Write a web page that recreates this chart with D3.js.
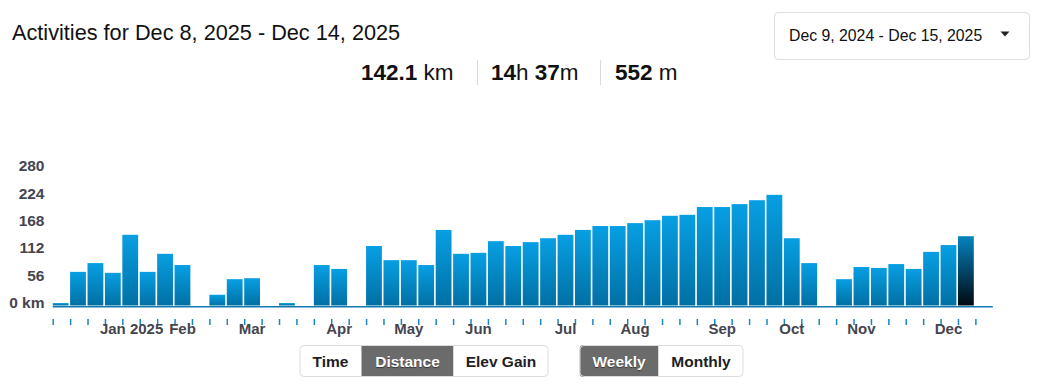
<!DOCTYPE html>
<html>
<head>
<meta charset="utf-8">
<script src="https://cdn.jsdelivr.net/npm/d3@7"></script>
<style>
  html, body { margin: 0; padding: 0; background: #fff; }
  svg { display: block; }
</style>
</head>
<body>
<div id="chart"></div>
<script>
// ---------- data ----------
const weeks = [
  "2024-12-09","2024-12-16","2024-12-23","2024-12-30","2025-01-06","2025-01-13","2025-01-20","2025-01-27",
  "2025-02-03","2025-02-10","2025-02-17","2025-02-24","2025-03-03","2025-03-10","2025-03-17","2025-03-24",
  "2025-03-31","2025-04-07","2025-04-14","2025-04-21","2025-04-28","2025-05-05","2025-05-12","2025-05-19",
  "2025-05-26","2025-06-02","2025-06-09","2025-06-16","2025-06-23","2025-06-30","2025-07-07","2025-07-14",
  "2025-07-21","2025-07-28","2025-08-04","2025-08-11","2025-08-18","2025-08-25","2025-09-01","2025-09-08",
  "2025-09-15","2025-09-22","2025-09-29","2025-10-06","2025-10-13","2025-10-20","2025-10-27","2025-11-03",
  "2025-11-10","2025-11-17","2025-11-24","2025-12-01","2025-12-08","2025-12-15"
];
const distanceKm = [
  5, 69, 87, 67, 145, 69, 106, 83,
  0, 22, 54, 56, 0, 5, 0, 83,
  75, 0, 122, 93, 93, 83, 155, 106,
  108, 132, 122, 130, 138, 145, 155, 163,
  163, 169, 175, 184, 186, 202, 202, 208,
  216, 227, 138, 87, 0, 54, 79, 77,
  85, 75, 110, 124, 142.1, 0
];
const selectedWeek = "2025-12-08";
const yTicks = [0, 56, 112, 168, 224, 280];
const monthDates = ["2025-01-01","2025-02-01","2025-03-01","2025-04-01","2025-05-01","2025-06-01",
                    "2025-07-01","2025-08-01","2025-09-01","2025-10-01","2025-11-01","2025-12-01"];
const monthLabels = ["Jan 2025","Feb","Mar","Apr","May","Jun","Jul","Aug","Sep","Oct","Nov","Dec"];

const titleText = "Activities for Dec 8, 2025 - Dec 14, 2025";
const statValues = ["142.1", "14", "37", "552"];
const rangeText = "Dec 9, 2024 - Dec 15, 2025";
const metricButtons = ["Time", "Distance", "Elev Gain"];
const periodButtons = ["Weekly", "Monthly"];

// ---------- chart ----------
const W = 1038, H = 390;
const FONT = "'Liberation Sans', Arial, sans-serif";
const svg = d3.select("#chart").append("svg").attr("width", W).attr("height", H)
  .style("font-family", FONT);

const defs = svg.append("defs");
const g1 = defs.append("linearGradient").attr("id", "barGrad").attr("x1", 0).attr("y1", 0).attr("x2", 0).attr("y2", 1);
g1.append("stop").attr("offset", "0%").attr("stop-color", "#079fe3");
g1.append("stop").attr("offset", "100%").attr("stop-color", "#0170a4");
const g2 = defs.append("linearGradient").attr("id", "selGrad").attr("x1", 0).attr("y1", 0).attr("x2", 0).attr("y2", 1);
g2.append("stop").attr("offset", "0%").attr("stop-color", "#0683bf");
g2.append("stop").attr("offset", "100%").attr("stop-color", "#000912");

const parse = d3.timeParse("%Y-%m-%d");
const x = d3.scaleBand().domain(weeks).range([52.7, 992.8]).paddingInner(0).paddingOuter(0);
const y = d3.scaleLinear().domain([0, 280]).range([305.5, 169]);

// bars
const data = weeks.map((w, i) => ({ week: w, v: distanceKm[i] }));
svg.append("g").selectAll("rect").data(data.filter(d => d.v > 0)).join("rect")
  .attr("x", d => x(d.week))
  .attr("y", d => y(d.v))
  .attr("width", x.bandwidth() - 1.6)
  .attr("height", d => y(0) - y(d.v))
  .attr("fill", d => d.week === selectedWeek ? "url(#selGrad)" : "url(#barGrad)");

// baseline
svg.append("line").attr("x1", x.range()[0]).attr("x2", x.range()[1])
  .attr("y1", 306.8).attr("y2", 306.8).attr("stroke", "#1279b0").attr("stroke-width", 1.6);

// y axis
const yAxis = d3.axisLeft(y).tickValues(yTicks).tickSize(0).tickPadding(0)
  .tickFormat(d => d === 0 ? "0 km" : d);
const yg = svg.append("g").attr("transform", "translate(44.5,-3)").call(yAxis);
yg.select(".domain").remove();
yg.selectAll("text").attr("fill", "#45454f").style("font-size", "15.5px").style("font-weight", "bold")
  .style("font-family", FONT);

// x ticks (one per week boundary)
const tickG = svg.append("g");
tickG.selectAll("line").data(weeks).join("line")
  .attr("x1", d => x(d) + 0.5).attr("x2", d => x(d) + 0.5)
  .attr("y1", 319).attr("y2", 325)
  .attr("stroke", "#1a86c2").attr("stroke-width", 1.5);

// month labels, centred on the week containing the 1st of the month
const weekDates = weeks.map(parse);
function weekOf(dateStr) {
  const d = parse(dateStr);
  let idx = 0;
  weekDates.forEach((w, i) => { if (w <= d) idx = i; });
  return weeks[idx];
}
const mg = svg.append("g");
monthDates.forEach((md, i) => {
  const cx = x(weekOf(md)) + x.bandwidth() / 2 - 0.8;
  const parts = monthLabels[i].split(" ");
  const t = mg.append("text").attr("y", 334).attr("fill", "#45454f")
    .style("font-size", "15px").style("font-weight", "bold");
  const first = t.append("tspan").text(parts[0]);
  if (parts.length > 1) t.append("tspan").text(" " + parts.slice(1).join(" "));
  const len = first.node().getComputedTextLength();
  t.attr("x", cx - len / 2);
});

// title
svg.append("text").attr("x", 12).attr("y", 39.5).text(titleText)
  .style("font-size", "21.7px").attr("fill", "#111");

// stats line
const stats = svg.append("g").style("font-size", "22.5px").attr("fill", "#111");
function statText(xp, pieces) {
  const t = stats.append("text").attr("x", xp).attr("y", 79.5);
  pieces.forEach(p => t.append("tspan").text(p[0]).style("font-weight", p[1] ? "bold" : "normal"));
}
statText(361, [[statValues[0], true], [" km", false]]);
statText(491, [[statValues[1], true], ["h ", false], [statValues[2], true], ["m", false]]);
statText(615, [[statValues[3], true], [" m", false]]);
[477.5, 600.5].forEach(sx => svg.append("line").attr("x1", sx).attr("x2", sx).attr("y1", 60).attr("y2", 85)
  .attr("stroke", "#d9d9e0").attr("stroke-width", 1));

// date range dropdown
svg.append("rect").attr("x", 774.5).attr("y", 12.5).attr("width", 255).attr("height", 47).attr("rx", 4)
  .attr("fill", "#fff").attr("stroke", "#dcdce2");
svg.append("text").attr("x", 789).attr("y", 41).text(rangeText).style("font-size", "15.8px").attr("fill", "#111");
svg.append("path").attr("d", "M1000.5,31.5 L1009.5,31.5 L1005,36.5 Z").attr("fill", "#222");

// button groups
function buttonGroup(x0, y0, h, widths, labels, selected) {
  const g = svg.append("g");
  const total = d3.sum(widths);
  let cx = x0;
  const clipId = "clip" + labels[0];
  defs.append("clipPath").attr("id", clipId).append("rect")
    .attr("x", x0).attr("y", y0).attr("width", total).attr("height", h).attr("rx", 4);
  labels.forEach((lab, i) => {
    const sel = i === selected;
    g.append("rect").attr("x", cx).attr("y", y0).attr("width", widths[i]).attr("height", h)
      .attr("fill", sel ? "#6b6b6b" : "#fff").attr("clip-path", `url(#${clipId})`);
    g.append("text").attr("x", cx + widths[i] / 2).attr("y", y0 + h / 2 + 5.5).attr("text-anchor", "middle")
      .text(lab).style("font-size", "15.5px").style("font-weight", "bold")
      .attr("fill", sel ? "#fff" : "#1e1e24")
      .style("text-shadow", sel ? "0 1px 1px rgba(0,0,0,0.5)" : null);
    cx += widths[i];
  });
  g.append("rect").attr("x", x0 + 0.5).attr("y", y0 + 0.5).attr("width", total - 1).attr("height", h - 1)
    .attr("rx", 4).attr("fill", "none").attr("stroke", "#dcdce2");
}
buttonGroup(299.5, 345, 32, [62, 92, 95], metricButtons, 1);
buttonGroup(579.5, 345, 32, [79, 85], periodButtons, 0);
</script>
</body>
</html>
